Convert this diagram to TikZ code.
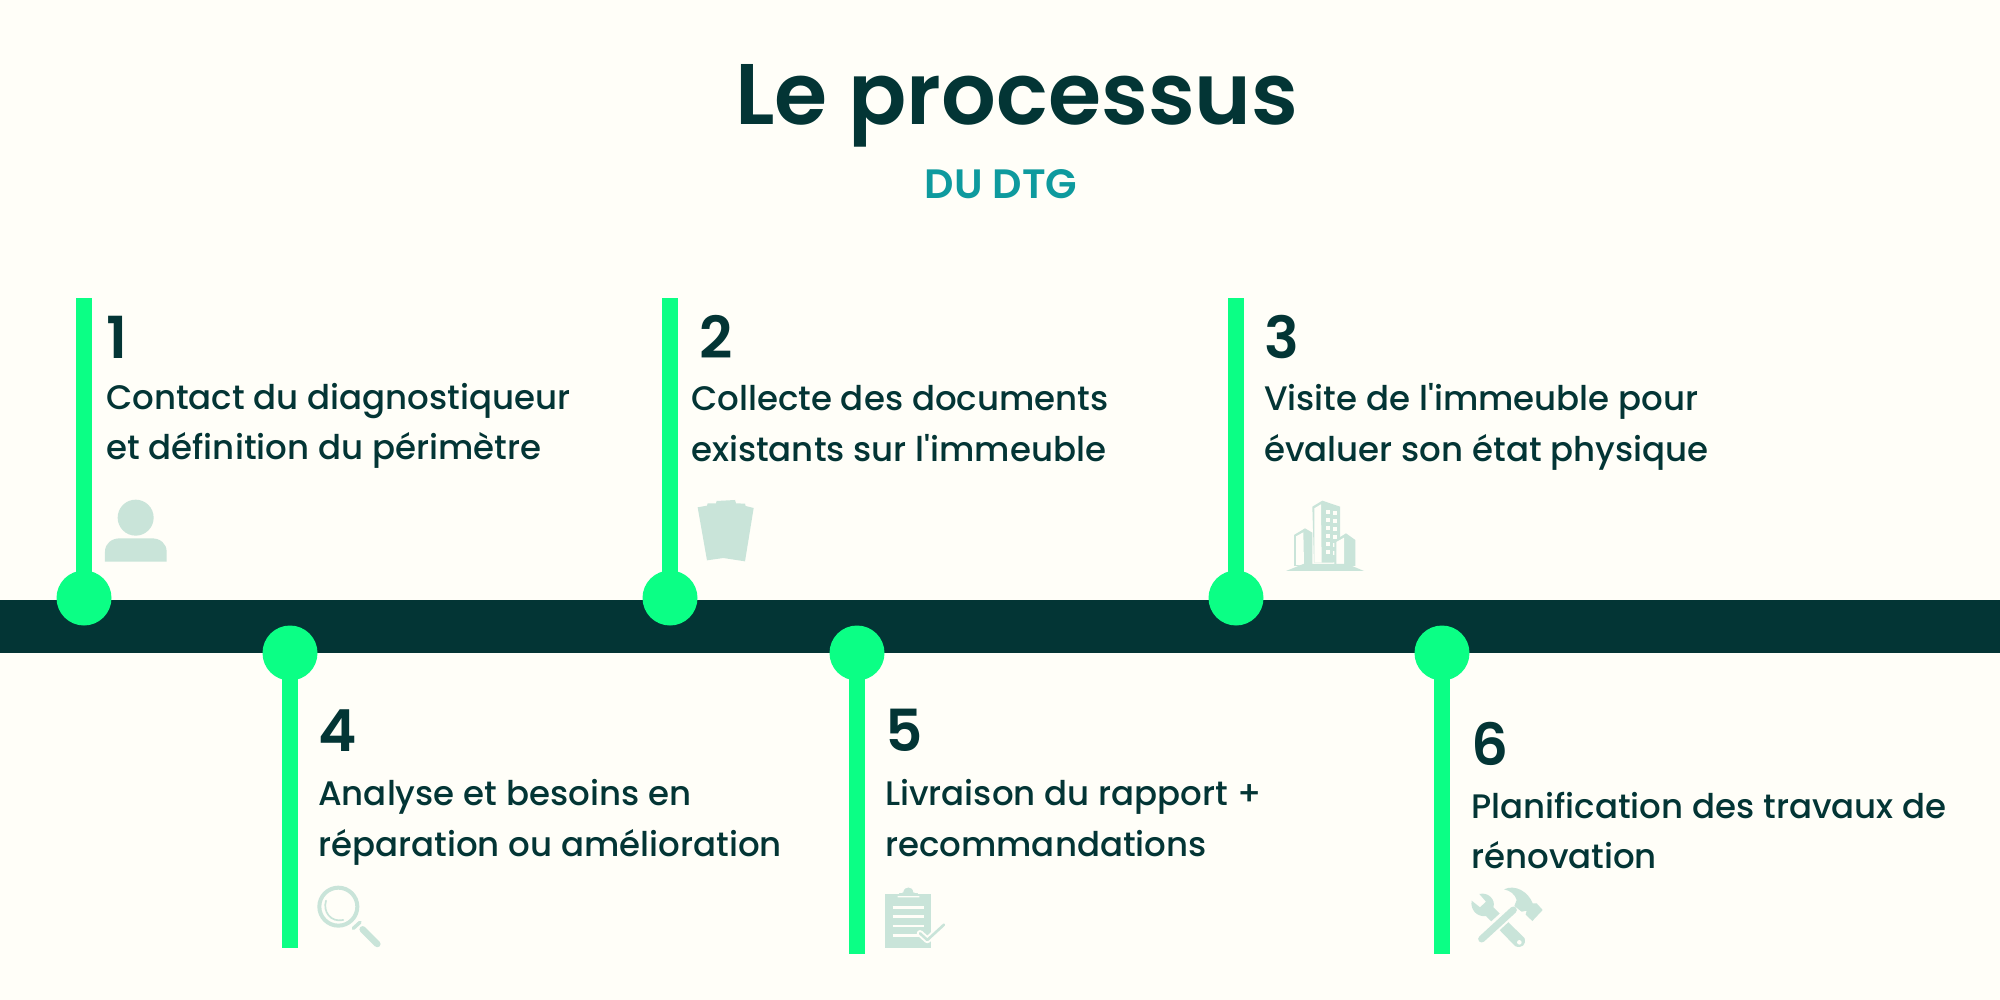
\documentclass[tikz,border=0pt]{standalone}
\usepackage{fontspec}
\setmainfont{Poppins}
\newfontfamily\medf{Poppins Medium}
\newfontfamily\semif{Poppins SemiBold}
\definecolor{bgc}{HTML}{FFFEF8}
\definecolor{dark}{HTML}{033535}
\definecolor{mint}{HTML}{0BFF85}
\definecolor{teal2}{HTML}{0E9A9E}
\definecolor{pale}{HTML}{C9E4D9}
\tikzset{
  dot/.style={circle,fill=mint,minimum size=55pt,inner sep=0pt},
  stem/.style={mint,line width=16pt},
  num/.style={anchor=base west,inner sep=0pt,text=dark,font=\fontsize{58}{60}\selectfont\semif},
  body/.style={anchor=base west,inner sep=0pt,text=dark,font=\fontsize{34}{36}\selectfont\medf},
  zoomed/.style={x=0.3333pt,y=-0.3333pt}
}
\begin{document}
\begin{tikzpicture}[x=1pt,y=-1pt]
\useasboundingbox (0,0) rectangle (2000,1000);
\fill[bgc] (0,0) rectangle (2000,1000);
\fill[dark] (0,600) rectangle (2000,653);
\node[anchor=base,inner sep=0pt,text=dark,font=\fontsize{86}{90}\selectfont\semif] (title) at (1017,125) {Le processus};
\node[anchor=base,inner sep=0pt,text=teal2,font=\fontsize{41}{42}\selectfont\semif] (sub) at (1001,199) {DU DTG};
% dots and stems
\node[dot] (d1) at (84,598) {}; \coordinate (t1) at (84,298);
\node[dot] (d2) at (670,598) {}; \coordinate (t2) at (670,298);
\node[dot] (d3) at (1236,598) {}; \coordinate (t3) at (1236,298);
\node[dot] (d4) at (290,653) {}; \coordinate (t4) at (290,948);
\node[dot] (d5) at (857,653) {}; \coordinate (t5) at (857,954);
\node[dot] (d6) at (1442,653) {}; \coordinate (t6) at (1442,954);
\foreach \i in {1,...,6} \draw[stem] (d\i.center) -- (t\i);
% texts
\node[num] (n1) at (106,358) {1};
\node[body] (a1) at (106,409) {Contact du diagnostiqueur};
\node[body] (b1) at (106,459) {et définition du périmètre};
\node[num] (n2) at (699,358) {2};
\node[body] (a2) at (691,410) {Collecte des documents};
\node[body] (b2) at (691,461) {existants sur l\textquotesingle immeuble};
\node[num] (n3) at (1264,358) {3};
\node[body] (a3) at (1264,410) {Visite de l\textquotesingle immeuble pour};
\node[body] (b3) at (1264,461) {évaluer son état physique};
\node[num] (n4) at (318,751) {4};
\node[body] (a4) at (318,805) {Analyse et besoins en};
\node[body] (b4) at (318,856) {réparation ou amélioration};
\node[num] (n5) at (885,751) {5};
\node[body] (a5) at (885,805) {Livraison du rapport +};
\node[body] (b5) at (885,856) {recommandations};
\node[num] (n6) at (1471,765) {6};
\node[body] (a6) at (1471,818) {Planification des travaux de};
\node[body] (b6) at (1471,868) {rénovation};
% person
\begin{scope}[shift={(80,480)},zoomed]
\fill[pale] (167,113) circle[radius=18pt];
\fill[pale] (75,245) -- (75,215) .. controls (75,190) and (95,175) .. (120,175) -- (215,175) .. controls (240,175) and (260,190) .. (260,215) -- (260,245) -- cycle;
\end{scope}
% documents
\begin{scope}[shift={(680,480)},zoomed]
\fill[pale] (53,82) -- (81,77) -- (83,70) -- (108,70) -- (110,63) -- (165,60) -- (168,70) -- (195,71) -- (197,78) -- (221,84) -- (195,244) -- (130,234) -- (81,241) -- cycle;
\end{scope}
% buildings
\begin{scope}[shift={(1270,490)},zoomed]
\fill[pale] (127,50) -- (157,32) -- (210,50) -- (210,215) -- (185,218) -- (132,218) -- cycle;
\fill[bgc] (133,55) -- (153,43) -- (155,218) -- (133,218) -- cycle;
\foreach \y in {60,84,108,132,156,180} {\fill[bgc] (168,\y) rectangle +(11,12); \fill[bgc] (190,\y+4) rectangle +(11,12);}
\fill[pale] (72,135) -- (105,115) -- (127,128) -- (127,225) -- (72,228) -- cycle;
\fill[bgc] (78,139) -- (100,127) -- (102,225) -- (78,225) -- cycle;
\fill[pale] (193,152) -- (228,130) -- (256,150) -- (256,228) -- (193,225) -- cycle;
\fill[bgc] (199,156) -- (222,143) -- (222,224) -- (199,224) -- cycle;
\fill[pale] (48,243) -- (100,222) -- (232,222) -- (282,243) -- cycle;
\end{scope}
% magnifier
\begin{scope}[shift={(300,870)},zoomed]
\draw[pale,line width=4pt] (115,110) circle[radius=19pt];
\draw[pale,line width=1.7pt,line cap=round] (78,92) .. controls (68,125) and (92,158) .. (130,150);
\draw[pale,line width=3.5pt,line cap=round] (160,175) -- (180,157);
\draw[pale,line width=6.5pt,line cap=round] (188,178) -- (232,222);
\end{scope}
% clipboard
\begin{scope}[shift={(870,870)},zoomed]
\fill[pale] (45,72) rectangle (183,233);
\draw[bgc,line width=1.2pt,fill=pale] (85,80) -- (85,68) -- (98,66) .. controls (100,45) and (130,45) .. (132,66) -- (146,68) -- (146,80) -- cycle;
\fill[pale] (45,72) rectangle (183,78);
\foreach \y in {112,140,168} \draw[bgc,line width=2.4pt] (68,\y) -- (162,\y);
\draw[bgc,line width=2.4pt] (68,196) -- (146,196);
\draw[bgc,line width=6.5pt,line cap=round,line join=round] (150,190) -- (172,210) -- (222,164);
\draw[pale,line width=2.6pt,line cap=round,line join=round] (150,190) -- (172,210) -- (222,164);
\end{scope}
% tools
\begin{scope}[shift={(1460,870)},zoomed]
% wrench
\fill[pale] (58,72) .. controls (85,65) and (108,90) .. (100,112) -- (194,205) .. controls (200,222) and (185,238) .. (165,228) -- (78,138) .. controls (50,142) and (30,118) .. (35,92) -- (60,112) -- (78,95) -- cycle;
\fill[bgc] (178,217) circle[radius=2.3pt];
% hammer handle separation
\draw[bgc,line width=12pt,line cap=round] (62,208) -- (160,118);
\draw[pale,line width=7pt,line cap=round] (65,207) -- (160,120);
% hammer head
\fill[pale] (132,58) .. controls (165,42) and (205,65) .. (218,100) -- (230,100) -- (248,120) -- (217,153) -- (197,134) -- (200,122) -- (185,125) -- (163,108) -- (170,90) .. controls (165,72) and (150,62) .. (132,58) -- cycle;
\end{scope}
\end{tikzpicture}
\end{document}
